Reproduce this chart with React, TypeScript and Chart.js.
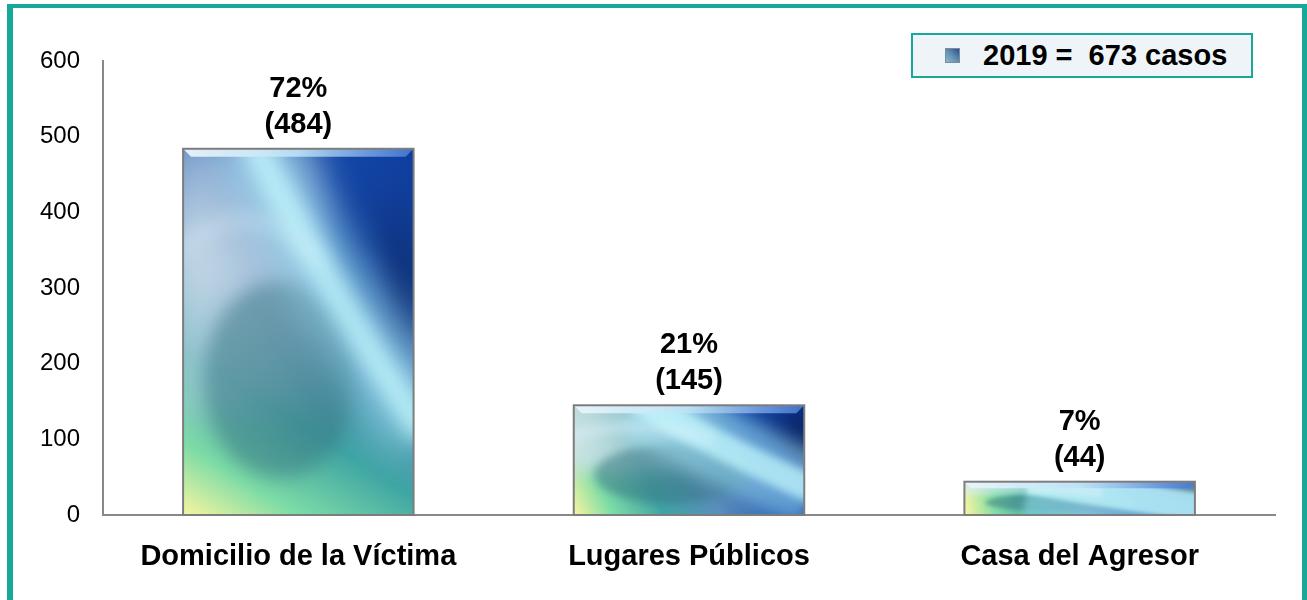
import React, { useEffect, useRef } from 'react';
import { Chart, registerables } from 'chart.js';

Chart.register(...registerables);

const categories = ['Domicilio de la Víctima', 'Lugares Públicos', 'Casa del Agresor'];
const casos = [484, 145, 44];
const percents = [72, 21, 7];
const yMax = 600;
const yStep = 100;
const legendLabel = '2019 =  673 casos';

const TEAL = '#17a89a';
const FONT = '"Liberation Sans", Arial, sans-serif';

function paintBar(ctx: CanvasRenderingContext2D, x0: number, y0: number, x1: number, y1: number) {
  const w = x1 - x0;
  const h = y1 - y0;
  if (w <= 0 || h <= 0) return;
  const blur = Math.max(2, Math.min(w, h) * 0.04);
  ctx.save();
  ctx.beginPath();
  ctx.rect(x0, y0, w, h);
  ctx.clip();

  // base diagonal gradient
  const g = ctx.createLinearGradient(x0, y1, x1, y0);
  g.addColorStop(0, '#f8f6a0');
  g.addColorStop(0.14, '#7edca6');
  g.addColorStop(0.32, '#3fa5a4');
  g.addColorStop(0.52, '#5a8ebc');
  g.addColorStop(0.76, '#1d52aa');
  g.addColorStop(1, '#0b3a9e');
  ctx.fillStyle = g;
  ctx.fillRect(x0, y0, w, h);

  ctx.filter = `blur(${blur * 2}px)`;
  // light haze on left upper part
  const lh = ctx.createRadialGradient(x0, y0 + 0.3 * h, 0, x0, y0 + 0.3 * h, 0.5 * w + 0.3 * h);
  lh.addColorStop(0, 'rgba(215,228,238,0.9)');
  lh.addColorStop(0.6, 'rgba(200,218,232,0.5)');
  lh.addColorStop(1, 'rgba(200,218,232,0)');
  ctx.fillStyle = lh;
  ctx.fillRect(x0 - 20, y0 - 20, w * 0.7, h * 0.8);

  // dark navy area right
  ctx.beginPath();
  ctx.moveTo(x0 + 0.6 * w, y0 - 10);
  ctx.lineTo(x1 + 10, y0 - 10);
  ctx.lineTo(x1 + 10, y0 + 0.58 * h);
  ctx.quadraticCurveTo(x0 + 0.84 * w, y0 + 0.3 * h, x0 + 0.6 * w, y0 - 10);
  const nv = ctx.createLinearGradient(x0 + 0.7 * w, y0, x1, y0 + 0.55 * h);
  nv.addColorStop(0, 'rgba(20,75,180,0.55)');
  nv.addColorStop(0.6, 'rgba(10,40,110,0.9)');
  nv.addColorStop(1, 'rgba(6,22,70,1)');
  ctx.fillStyle = nv;
  ctx.fill();

  // dark teal ellipse
  ctx.filter = `blur(${blur}px)`;
  const cx = x0 + 0.42 * w;
  const cy = y0 + 0.63 * h;
  ctx.beginPath();
  ctx.ellipse(cx, cy, 0.33 * w, 0.27 * h, 0, 0, Math.PI * 2);
  ctx.fillStyle = 'rgba(55,115,130,0.5)';
  ctx.fill();

  // swooshes
  ctx.filter = `blur(${blur * 2}px)`;
  ctx.lineCap = 'butt';
  ctx.beginPath();
  ctx.moveTo(x0 + 0.28 * w, y0 - 0.05 * h);
  ctx.quadraticCurveTo(x0 + 0.6 * w, y0 + 0.36 * h, x1 + 0.05 * w, y0 + 0.78 * h);
  ctx.strokeStyle = 'rgba(170,238,252,0.5)';
  ctx.lineWidth = 0.32 * w;
  ctx.stroke();
  ctx.filter = `blur(${blur}px)`;
  ctx.strokeStyle = 'rgba(200,252,255,0.7)';
  ctx.lineWidth = 0.12 * w;
  ctx.stroke();

  ctx.beginPath();
  ctx.moveTo(x0 - 0.05 * w, y0 + 0.3 * h);
  ctx.quadraticCurveTo(x0 + 0.3 * w, y0 + 0.08 * h, x0 + 0.6 * w, y0 + 0.32 * h);
  ctx.strokeStyle = 'rgba(220,240,250,0.4)';
  ctx.lineWidth = 0.05 * w;
  ctx.stroke();

  ctx.filter = 'none';
  ctx.restore();

  // top bevel
  const bh = Math.min(8, h * 0.2);
  const bg = ctx.createLinearGradient(x0, 0, x1, 0);
  bg.addColorStop(0, 'rgba(235,245,252,0.95)');
  bg.addColorStop(0.5, 'rgba(190,225,245,0.9)');
  bg.addColorStop(1, 'rgba(70,120,210,0.9)');
  ctx.beginPath();
  ctx.moveTo(x0, y0);
  ctx.lineTo(x1, y0);
  ctx.lineTo(x1 - bh, y0 + bh);
  ctx.lineTo(x0 + bh, y0 + bh);
  ctx.closePath();
  ctx.fillStyle = bg;
  ctx.fill();

  // outline
  ctx.strokeStyle = '#7d7d7d';
  ctx.lineWidth = 2;
  ctx.strokeRect(x0, y0, w, h);
}

const barPainter = {
  id: 'barPainter',
  afterDatasetsDraw(chart: any) {
    const ctx = chart.ctx as CanvasRenderingContext2D;
    const meta = chart.getDatasetMeta(0);
    meta.data.forEach((el: any, i: number) => {
      const p = el.getProps(['x', 'y', 'base', 'width'], true);
      const x0 = p.x - p.width / 2;
      const x1 = p.x + p.width / 2;
      paintBar(ctx, x0, p.y, x1, p.base);
      ctx.save();
      ctx.fillStyle = '#000';
      ctx.font = `bold 29px ${FONT}`;
      ctx.textAlign = 'center';
      ctx.textBaseline = 'middle';
      ctx.fillText(`${percents[i]}%`, p.x, p.y - 60);
      ctx.fillText(`(${casos[i]})`, p.x, p.y - 24);
      ctx.restore();
    });
  },
};

export default function App() {
  const ref = useRef<HTMLCanvasElement>(null);

  useEffect(() => {
    if (!ref.current) return;
    const chart = new Chart(ref.current, {
      type: 'bar',
      data: {
        labels: categories,
        datasets: [
          {
            label: legendLabel,
            data: casos,
            backgroundColor: '#3a7fb0',
            borderWidth: 0,
            categoryPercentage: 1,
            barPercentage: 0.59,
          },
        ],
      },
      options: {
        animation: false,
        responsive: false,
        layout: { padding: { left: 0, right: 32, top: 61, bottom: 0 } },
        plugins: {
          legend: { display: false },
          tooltip: { enabled: false },
        },
        scales: {
          x: {
            grid: { display: false, drawTicks: false },
            border: { display: true, color: '#888888', width: 2 },
            ticks: {
              color: '#000',
              font: { family: FONT, size: 29, weight: 'bold' },
              padding: 25,
              maxRotation: 0,
            },
            afterFit: (s: any) => {
              s.height = 85;
            },
          },
          y: {
            min: 0,
            max: yMax,
            grid: { display: false, drawTicks: false },
            border: { display: true, color: '#888888', width: 2 },
            ticks: {
              stepSize: yStep,
              color: '#000',
              font: { family: FONT, size: 24 },
              padding: 23,
            },
            afterFit: (s: any) => {
              s.width = 103;
            },
          },
        },
      },
      plugins: [barPainter],
    });
    return () => chart.destroy();
  }, []);

  return (
    <div
      style={{
        position: 'fixed',
        left: 0,
        top: 0,
        width: 1307,
        height: 600,
        background: '#fff',
        overflow: 'hidden',
      }}
    >
      <canvas ref={ref} width={1307} height={600} style={{ position: 'absolute', left: 0, top: 0 }} />
      <div
        style={{
          position: 'absolute',
          left: 7,
          top: 4,
          width: 1307 - 7,
          height: 620,
          boxSizing: 'border-box',
          borderLeft: `6px solid ${TEAL}`,
          borderTop: `4px solid ${TEAL}`,
          borderRight: `5px solid ${TEAL}`,
          pointerEvents: 'none',
        }}
      />
      <div
        style={{
          position: 'absolute',
          left: 911,
          top: 33,
          width: 342,
          height: 45,
          boxSizing: 'border-box',
          border: `2px solid ${TEAL}`,
          background: '#eef4f7',
          display: 'flex',
          alignItems: 'center',
        }}
      >
        <span
          style={{
            display: 'inline-block',
            marginLeft: 32,
            width: 15,
            height: 15,
            background: 'linear-gradient(45deg, #8fb8c8 0%, #5f8fb0 50%, #2c4a8a 100%)',
            border: '1px solid #7a8aa0',
            boxSizing: 'border-box',
          }}
        />
        <span
          style={{
            marginLeft: 23,
            fontFamily: FONT,
            fontWeight: 'bold',
            fontSize: 29,
            color: '#000',
            whiteSpace: 'pre',
          }}
        >
          {legendLabel}
        </span>
      </div>
    </div>
  );
}
